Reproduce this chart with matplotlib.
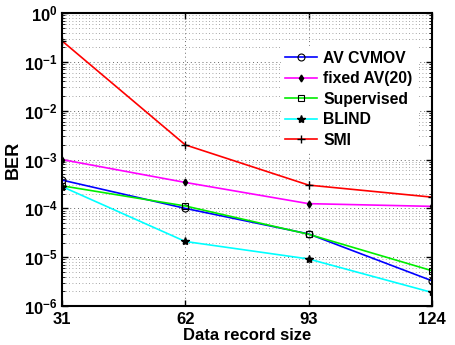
import matplotlib
matplotlib.use("Agg")
import matplotlib.pyplot as plt
from matplotlib.ticker import LogLocator, NullFormatter, FixedLocator, LogFormatterSciNotation

plt.rcParams['font.family'] = ['Liberation Sans', 'DejaVu Sans']
plt.rcParams['font.weight'] = 'bold'
plt.rcParams['mathtext.default'] = 'bf'

x = [31, 62, 93, 124]
av_cvmov = [3.8e-4, 1.0e-4, 3.0e-5, 3.3e-6]
fixed_av = [1.0e-3, 3.4e-4, 1.25e-4, 1.1e-4]
supervised = [2.9e-4, 1.12e-4, 2.95e-5, 5.3e-6]
blind = [2.8e-4, 2.1e-5, 9.2e-6, 1.9e-6]
smi = [0.27, 2.0e-3, 3.0e-4, 1.7e-4]
labels = ['AV CVMOV', 'fixed AV(20)', 'Supervised', 'BLIND', 'SMI']
yticks = [1e-6, 1e-5, 1e-4, 1e-3, 1e-2, 1e-1, 1e0]

fig = plt.figure(figsize=(4.56, 3.45), dpi=100)
ax = fig.add_axes([0.136, 0.113, 0.811, 0.849])

ax.plot(x, av_cvmov, color='blue', marker='o', ms=5, mfc='none', mec='k', mew=0.8, lw=1.2, label=labels[0])
ax.plot(x, fixed_av, color='magenta', marker='d', ms=3.5, mfc='k', mec='k', lw=1.2, label=labels[1])
ax.plot(x, supervised, color='#00ee00', marker='s', ms=5, mfc='none', mec='k', mew=0.8, lw=1.2, label=labels[2])
ax.plot(x, blind, color='cyan', marker='*', ms=6, mfc='k', mec='k', lw=1.2, label=labels[3])
ax.plot(x, smi, color='red', marker='+', ms=6, mec='k', mew=1, lw=1.2, label=labels[4])

ax.set_yscale('log')
ax.set_ylim(1e-6, 1)
ax.set_xlim(31, 124)
ax.xaxis.set_major_locator(FixedLocator(x))
ax.set_xticklabels([str(v) for v in x])
ax.yaxis.set_major_locator(FixedLocator(yticks))
ax.yaxis.set_major_formatter(LogFormatterSciNotation())
ax.yaxis.set_minor_locator(LogLocator(base=10, subs=range(2, 10), numticks=20))
ax.yaxis.set_minor_formatter(NullFormatter())

ax.grid(True, which='major', axis='both', linestyle=(0, (1, 3)), color='#666666', lw=0.7)
ax.grid(True, which='minor', axis='y', linestyle=(0, (1, 3)), color='#888888', lw=0.6)

ax.tick_params(axis='both', which='major', labelsize=12, direction='in', length=4, width=1, top=True, right=True)
ax.tick_params(axis='x', which='major', pad=4.5)
ax.tick_params(axis='y', which='major', pad=3)
ax.tick_params(axis='y', which='minor', direction='in', length=2, right=True)
for lab in ax.get_xticklabels() + ax.get_yticklabels():
    lab.set_fontweight('bold')
for s in ax.spines.values():
    s.set_linewidth(1.5)

ax.set_xlabel('Data record size', fontsize=12, fontweight='bold', labelpad=0.5)
ax.set_ylabel('BER', fontsize=13, fontweight='bold', labelpad=2)

leg = ax.legend(loc='upper left', bbox_to_anchor=(0.57, 0.915), fontsize=11.3, frameon=True,
                fancybox=False, edgecolor='white', framealpha=1, handlelength=2.0,
                labelspacing=0.35, borderpad=0.3, handletextpad=0.4)
for t in leg.get_texts():
    t.set_fontweight('bold')

fig.savefig('out.png', dpi=100)
